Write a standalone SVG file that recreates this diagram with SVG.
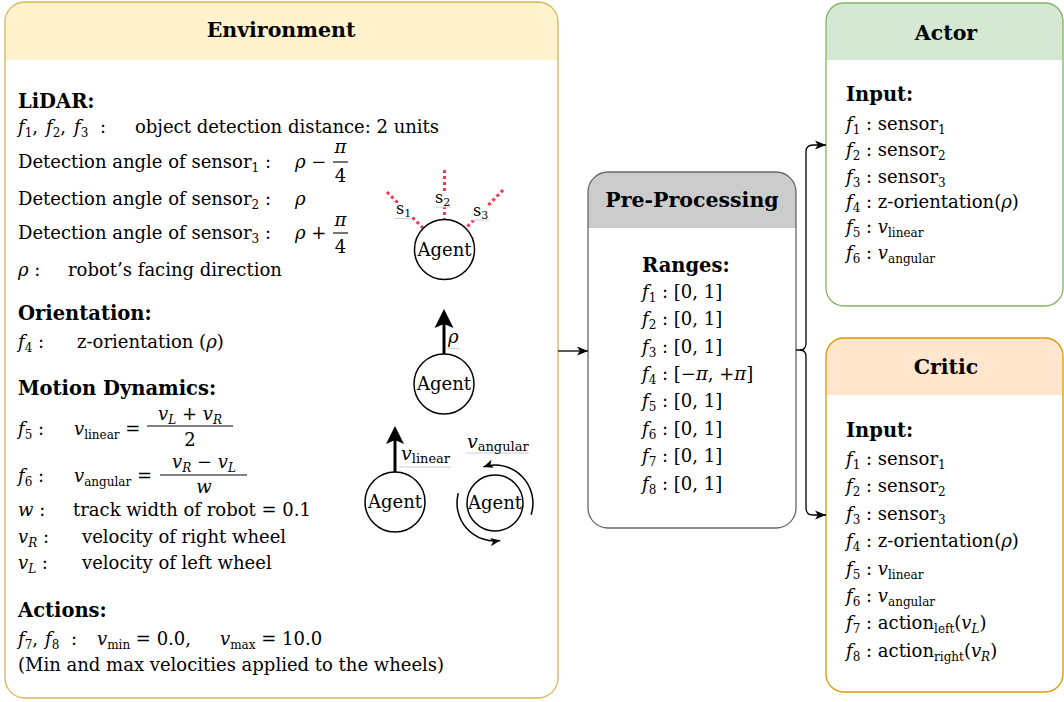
<svg xmlns="http://www.w3.org/2000/svg" width="1064" height="702" viewBox="0 0 1064 702">
<style>
text{font-family:"DejaVu Serif","Liberation Serif",serif;font-size:18px;fill:#000}
.ttl{font-weight:bold;font-size:20.5px;text-anchor:middle}
.hd{font-weight:bold;font-size:19.5px}
.i{font-style:italic}
.s{font-size:12px}
.c{text-anchor:middle}
.sl{font-size:16px}
.ss{font-size:11px}
.frac{stroke:#000;stroke-width:1.1}
.agent circle{fill:#fff;stroke:#000;stroke-width:1.5}
.ray{stroke:#ff334d;stroke-width:3;stroke-dasharray:3 3;fill:none}
.lbl{fill:#fff}
.ul{stroke:#cccccc;stroke-width:1}
.conn{fill:none;stroke:#000;stroke-width:1.3}
.thick{stroke:#000;stroke-width:3}
.spin{fill:none;stroke:#000;stroke-width:1.5}
</style>
<defs>
<marker id="arrow" viewBox="0 0 10 10" refX="10" refY="5" markerWidth="11" markerHeight="11" markerUnits="userSpaceOnUse" orient="auto"><path d="M0,0.8 L10,5 L0,9.2 L2.6,5 Z"/></marker>
<marker id="arrowSm" viewBox="0 0 10 10" refX="10" refY="5" markerWidth="10" markerHeight="10" markerUnits="userSpaceOnUse" orient="auto"><path d="M0,0.8 L10,5 L0,9.2 L2.6,5 Z"/></marker>
</defs>

<!-- Environment panel -->
<g id="environment">
<rect x="5" y="2" width="553" height="696" rx="20" fill="#fff"/>
<path d="M5,60 V22 A20,20 0 0 1 25,2 H538 A20,20 0 0 1 558,22 V60 Z" fill="#fff2cc"/>
<rect x="5" y="2" width="553" height="696" rx="20" fill="none" stroke="#d6b656" stroke-width="1.3"/>
<text class="ttl" x="281" y="37">Environment</text>

<text class="hd" x="18" y="108">LiDAR:</text>
<text x="18" y="133"><tspan class="i">f</tspan><tspan class="s" dy="4">1</tspan><tspan dy="-4">,</tspan><tspan class="i" x="46">f</tspan><tspan class="s" dy="4">2</tspan><tspan dy="-4">,</tspan><tspan class="i" x="74">f</tspan><tspan class="s" dy="4">3</tspan><tspan x="100" dy="-4">:</tspan></text>
<text x="135" y="133">object detection distance: 2 units</text>

<text x="18" y="168">Detection angle of sensor<tspan class="s" dy="4">1</tspan><tspan dy="-4"> :</tspan></text>
<text x="295" y="168"><tspan class="i">ρ</tspan> −</text>
<text class="i c" x="340.5" y="153">π</text>
<line class="frac" x1="333" y1="162" x2="348" y2="162"/>
<text class="c" x="340.5" y="182">4</text>

<text x="18" y="205">Detection angle of sensor<tspan class="s" dy="4">2</tspan><tspan dy="-4"> :</tspan></text>
<text class="i" x="295" y="205">ρ</text>

<text x="18" y="239">Detection angle of sensor<tspan class="s" dy="4">3</tspan><tspan dy="-4"> :</tspan></text>
<text x="295" y="239"><tspan class="i">ρ</tspan> +</text>
<text class="i c" x="340.5" y="226">π</text>
<line class="frac" x1="333" y1="233" x2="348" y2="233"/>
<text class="c" x="340.5" y="253">4</text>

<text x="18" y="276"><tspan class="i">ρ</tspan> :</text>
<text x="68" y="276">robot’s facing direction</text>

<text class="hd" x="18" y="320">Orientation:</text>
<text x="18" y="348"><tspan class="i">f</tspan><tspan class="s" dy="4">4</tspan><tspan dy="-4"> :</tspan></text>
<text x="77" y="348">z-orientation (<tspan class="i">ρ</tspan>)</text>

<text class="hd" x="18" y="395">Motion Dynamics:</text>
<text x="18" y="435"><tspan class="i">f</tspan><tspan class="s" dy="4">5</tspan><tspan dy="-4"> :</tspan></text>
<text x="74" y="435"><tspan class="i">v</tspan><tspan class="s" dy="4">linear</tspan><tspan dy="-4"> =</tspan></text>
<text class="c" x="190" y="420"><tspan class="i">v</tspan><tspan class="s i" dy="4">L</tspan><tspan dy="-4"> + </tspan><tspan class="i">v</tspan><tspan class="s i" dy="4">R</tspan></text>
<line class="frac" x1="147" y1="426" x2="233" y2="426"/>
<text class="c" x="190" y="446">2</text>

<text x="18" y="482"><tspan class="i">f</tspan><tspan class="s" dy="4">6</tspan><tspan dy="-4"> :</tspan></text>
<text x="74" y="482"><tspan class="i">v</tspan><tspan class="s" dy="4">angular</tspan><tspan dy="-4"> =</tspan></text>
<text class="c" x="204" y="468"><tspan class="i">v</tspan><tspan class="s i" dy="4">R</tspan><tspan dy="-4"> − </tspan><tspan class="i">v</tspan><tspan class="s i" dy="4">L</tspan></text>
<line class="frac" x1="160" y1="475" x2="247" y2="475"/>
<text class="i c" x="204" y="493">w</text>

<text x="18" y="516"><tspan class="i">w</tspan> :</text>
<text x="73" y="516">track width of robot = 0.1</text>
<text x="18" y="543"><tspan class="i">v</tspan><tspan class="s i" dy="4">R</tspan><tspan dy="-4"> :</tspan></text>
<text x="82" y="543">velocity of right wheel</text>
<text x="18" y="569"><tspan class="i">v</tspan><tspan class="s i" dy="4">L</tspan><tspan dy="-4"> :</tspan></text>
<text x="82" y="569">velocity of left wheel</text>

<text class="hd" x="18" y="617">Actions:</text>
<text x="18" y="645"><tspan class="i">f</tspan><tspan class="s" dy="4">7</tspan><tspan dy="-4">,</tspan><tspan class="i" x="45">f</tspan><tspan class="s" dy="4">8</tspan><tspan x="71" dy="-4">:</tspan></text>
<text x="97" y="645"><tspan class="i">v</tspan><tspan class="s" dy="4">min</tspan><tspan dy="-4"> = 0.0,</tspan></text>
<text x="220" y="645"><tspan class="i">v</tspan><tspan class="s" dy="4">max</tspan><tspan dy="-4"> = 10.0</tspan></text>
<text x="18" y="671">(Min and max velocities applied to the wheels)</text>
</g>

<!-- Agent with three LiDAR rays -->
<g id="agent-lidar" class="agent">
<line class="ray" x1="444.5" y1="170" x2="444.5" y2="219"/>
<line class="ray" x1="387" y1="192" x2="423.5" y2="228.5"/>
<line class="ray" x1="503" y1="190" x2="466" y2="228"/>
<rect class="lbl" x="395" y="203" width="17" height="15"/>
<line class="ul" x1="395" y1="218.5" x2="412" y2="218.5"/>
<text class="sl" x="396" y="214">s<tspan class="ss" dy="3">1</tspan></text>
<rect class="lbl" x="434" y="193" width="17" height="14"/>
<line class="ul" x1="434" y1="207" x2="451" y2="207"/>
<text class="sl" x="435" y="203">s<tspan class="ss" dy="3">2</tspan></text>
<rect class="lbl" x="472" y="206" width="17" height="14"/>
<line class="ul" x1="472" y1="220" x2="489" y2="220"/>
<text class="sl" x="473" y="216">s<tspan class="ss" dy="3">3</tspan></text>
<circle cx="444.5" cy="249.5" r="30"/>
<text class="c" x="444.5" y="256">Agent</text>
</g>

<!-- Agent with heading arrow -->
<g id="agent-orientation" class="agent">
<line class="thick" x1="444" y1="354" x2="444" y2="323"/>
<path d="M444,309 L453.5,328 L444,324 L434.5,328 Z"/>
<rect class="lbl" x="447" y="330" width="13" height="18"/>
<line class="ul" x1="447" y1="348.5" x2="460" y2="348.5"/>
<text class="i" x="448" y="343">ρ</text>
<circle cx="444" cy="384" r="30"/>
<text class="c" x="444" y="390">Agent</text>
</g>

<!-- Agent with linear velocity -->
<g id="agent-linear" class="agent">
<line class="thick" x1="395" y1="472" x2="395" y2="440"/>
<path d="M395,426 L404,444 L395,440 L386,444 Z"/>
<rect class="lbl" x="399" y="447" width="52" height="20"/>
<line class="ul" x1="399" y1="467" x2="451" y2="467"/>
<text x="401" y="460"><tspan class="i" style="font-size:19px">v</tspan><tspan style="font-size:13px" dy="3">linear</tspan></text>
<circle cx="395" cy="502" r="30"/>
<text class="c" x="395" y="508">Agent</text>
</g>

<!-- Agent with angular velocity -->
<g id="agent-angular" class="agent">
<rect class="lbl" x="466" y="433" width="63" height="20"/>
<line class="ul" x1="466" y1="453" x2="529" y2="453"/>
<text x="467" y="448"><tspan class="i" style="font-size:19px">v</tspan><tspan style="font-size:13px" dy="3">angular</tspan></text>
<path class="spin" d="M531.1,514.7 A38,38 0 0 0 483.3,466.9" marker-end="url(#arrowSm)"/>
<path class="spin" d="M458.3,493.2 A38,38 0 0 0 500.3,540.6" marker-end="url(#arrowSm)"/>
<circle cx="495" cy="503" r="28"/>
<text class="c" x="495" y="509">Agent</text>
</g>

<!-- Pre-processing panel -->
<g id="preprocessing">
<rect x="588" y="172" width="208" height="356" rx="20" fill="#fff"/>
<path d="M588,228 V192 A20,20 0 0 1 608,172 H776 A20,20 0 0 1 796,192 V228 Z" fill="#cccccc"/>
<rect x="588" y="172" width="208" height="356" rx="20" fill="none" stroke="#666666" stroke-width="1.3"/>
<text class="ttl" x="692" y="207">Pre-Processing</text>
<text class="hd" x="642" y="272">Ranges:</text>
<text x="642" y="298"><tspan class="i">f</tspan><tspan class="s" dy="4">1</tspan><tspan dy="-4"> : [0, 1]</tspan></text>
<text x="642" y="325"><tspan class="i">f</tspan><tspan class="s" dy="4">2</tspan><tspan dy="-4"> : [0, 1]</tspan></text>
<text x="642" y="353"><tspan class="i">f</tspan><tspan class="s" dy="4">3</tspan><tspan dy="-4"> : [0, 1]</tspan></text>
<text x="642" y="380"><tspan class="i">f</tspan><tspan class="s" dy="4">4</tspan><tspan dy="-4"> : [−</tspan><tspan class="i">π</tspan>, +<tspan class="i">π</tspan>]</text>
<text x="642" y="407"><tspan class="i">f</tspan><tspan class="s" dy="4">5</tspan><tspan dy="-4"> : [0, 1]</tspan></text>
<text x="642" y="435"><tspan class="i">f</tspan><tspan class="s" dy="4">6</tspan><tspan dy="-4"> : [0, 1]</tspan></text>
<text x="642" y="462"><tspan class="i">f</tspan><tspan class="s" dy="4">7</tspan><tspan dy="-4"> : [0, 1]</tspan></text>
<text x="642" y="490"><tspan class="i">f</tspan><tspan class="s" dy="4">8</tspan><tspan dy="-4"> : [0, 1]</tspan></text>
</g>

<!-- Actor panel -->
<g id="actor">
<rect x="826" y="3" width="237" height="303" rx="18" fill="#fff"/>
<path d="M826,60 V21 A18,18 0 0 1 844,3 H1045 A18,18 0 0 1 1063,21 V60 Z" fill="#d5e8d4"/>
<rect x="826" y="3" width="237" height="303" rx="18" fill="none" stroke="#82b366" stroke-width="1.3"/>
<text class="ttl" x="946" y="40">Actor</text>
<text class="hd" x="846" y="101">Input:</text>
<text x="846" y="130"><tspan class="i">f</tspan><tspan class="s" dy="4">1</tspan><tspan dy="-4"> : sensor</tspan><tspan class="s" dy="4">1</tspan></text>
<text x="846" y="156"><tspan class="i">f</tspan><tspan class="s" dy="4">2</tspan><tspan dy="-4"> : sensor</tspan><tspan class="s" dy="4">2</tspan></text>
<text x="846" y="183"><tspan class="i">f</tspan><tspan class="s" dy="4">3</tspan><tspan dy="-4"> : sensor</tspan><tspan class="s" dy="4">3</tspan></text>
<text x="846" y="208"><tspan class="i">f</tspan><tspan class="s" dy="4">4</tspan><tspan dy="-4"> : z-orientation(</tspan><tspan class="i">ρ</tspan>)</text>
<text x="846" y="233"><tspan class="i">f</tspan><tspan class="s" dy="4">5</tspan><tspan dy="-4"> : </tspan><tspan class="i">v</tspan><tspan class="s" dy="4">linear</tspan></text>
<text x="846" y="259"><tspan class="i">f</tspan><tspan class="s" dy="4">6</tspan><tspan dy="-4"> : </tspan><tspan class="i">v</tspan><tspan class="s" dy="4">angular</tspan></text>
</g>

<!-- Critic panel -->
<g id="critic">
<rect x="826" y="338" width="237" height="354" rx="18" fill="#fff"/>
<path d="M826,395 V356 A18,18 0 0 1 844,338 H1045 A18,18 0 0 1 1063,356 V395 Z" fill="#ffe6cc"/>
<rect x="826" y="338" width="237" height="354" rx="18" fill="none" stroke="#d79b00" stroke-width="1.3"/>
<text class="ttl" x="946" y="374">Critic</text>
<text class="hd" x="846" y="437">Input:</text>
<text x="846" y="465"><tspan class="i">f</tspan><tspan class="s" dy="4">1</tspan><tspan dy="-4"> : sensor</tspan><tspan class="s" dy="4">1</tspan></text>
<text x="846" y="492"><tspan class="i">f</tspan><tspan class="s" dy="4">2</tspan><tspan dy="-4"> : sensor</tspan><tspan class="s" dy="4">2</tspan></text>
<text x="846" y="520"><tspan class="i">f</tspan><tspan class="s" dy="4">3</tspan><tspan dy="-4"> : sensor</tspan><tspan class="s" dy="4">3</tspan></text>
<text x="846" y="547"><tspan class="i">f</tspan><tspan class="s" dy="4">4</tspan><tspan dy="-4"> : z-orientation(</tspan><tspan class="i">ρ</tspan>)</text>
<text x="846" y="575"><tspan class="i">f</tspan><tspan class="s" dy="4">5</tspan><tspan dy="-4"> : </tspan><tspan class="i">v</tspan><tspan class="s" dy="4">linear</tspan></text>
<text x="846" y="602"><tspan class="i">f</tspan><tspan class="s" dy="4">6</tspan><tspan dy="-4"> : </tspan><tspan class="i">v</tspan><tspan class="s" dy="4">angular</tspan></text>
<text x="846" y="629"><tspan class="i">f</tspan><tspan class="s" dy="4">7</tspan><tspan dy="-4"> : action</tspan><tspan class="s" dy="4">left</tspan><tspan dy="-4">(</tspan><tspan class="i">v</tspan><tspan class="s i" dy="4">L</tspan><tspan dy="-4">)</tspan></text>
<text x="846" y="657"><tspan class="i">f</tspan><tspan class="s" dy="4">8</tspan><tspan dy="-4"> : action</tspan><tspan class="s" dy="4">right</tspan><tspan dy="-4">(</tspan><tspan class="i">v</tspan><tspan class="s i" dy="4">R</tspan><tspan dy="-4">)</tspan></text>
</g>

<!-- Connectors: environment to pre-processing, then a brace splitting to actor and critic -->
<g id="connectors">
<path class="conn" d="M558,351 H588" marker-end="url(#arrow)"/>
<path class="conn" d="M796,350 H800 Q806,350 806,343 V152 Q806,145 813,145 H826" marker-end="url(#arrow)"/>
<path class="conn" d="M800,350 Q806,350 806,357 V508 Q806,515 813,515 H826" marker-end="url(#arrow)"/>
</g>
</svg>
